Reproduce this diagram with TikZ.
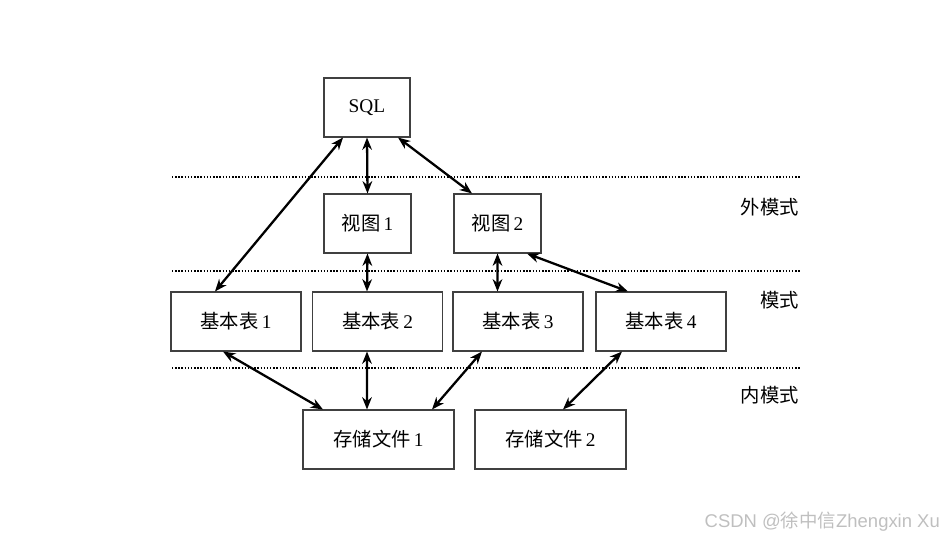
\documentclass[tikz,border=0pt]{standalone}
\usepackage{fontspec}
\setmainfont{Liberation Serif}
\newfontfamily\cjk{Noto Sans CJK SC}
\usetikzlibrary{arrows.meta}

\tikzset{
  box/.style={draw=black!75, line width=0.6pt, minimum height=1.18cm, inner sep=0pt,
    font=\fontsize{11}{12}\selectfont},
  link/.style={{Stealth[length=7pt,width=5.5pt]}-{Stealth[length=7pt,width=5.5pt]}, line width=1.3pt},
  level/.style={densely dotted, line width=0.8pt},
  layer/.style={anchor=east, font=\cjk\fontsize{11}{12}\selectfont},
}

\begin{document}
\begin{tikzpicture}[x=0.2cm, y=-0.2cm]
\useasboundingbox (0,0) rectangle (95.1,53.9);

% dotted separators
\draw[level] (17.2,17.7) -- (80.1,17.7);
\draw[level] (17.2,27.1) -- (80.1,27.1);
\draw[level] (17.2,36.8) -- (80.1,36.8);

% layer names
\node[layer] (ext) at (80.5,20.7) {外模式};
\node[layer] (mid) at (80.5,30.0) {模式};
\node[layer] (inn) at (80.5,39.5) {内模式};

% boxes
\node[box, minimum width=1.72cm] (sql) at (36.7,10.75) {SQL};
\node[box, minimum width=1.74cm] (v1) at (36.75,22.35) {{\cjk 视图}\,1};
\node[box, minimum width=1.74cm] (v2) at (49.75,22.35) {{\cjk 视图}\,2};
\node[box, minimum width=2.6cm] (t1) at (23.6,32.15) {{\cjk 基本表}\,1};
\node[box, minimum width=2.6cm] (t2) at (37.75,32.15) {{\cjk 基本表}\,2};
\node[box, minimum width=2.6cm] (t3) at (51.8,32.15) {{\cjk 基本表}\,3};
\node[box, minimum width=2.6cm] (t4) at (66.1,32.15) {{\cjk 基本表}\,4};
\node[box, minimum width=3.02cm] (f1) at (37.85,43.95) {{\cjk 存储文件}\,1};
\node[box, minimum width=3.02cm] (f2) at (55.05,43.95) {{\cjk 存储文件}\,2};

% arrows
\draw[link] ([xshift=-0.48cm]sql.south) -- ([xshift=-0.42cm]t1.north);
\draw[link] (sql.south) -- (v1.north);
\draw[link] ([xshift=0.62cm]sql.south) -- ([xshift=-0.51cm]v2.north);
\draw[link] (v1.south) -- ([xshift=-0.21cm]t2.north);
\draw[link] (v2.south) -- ([xshift=-0.41cm]t3.north);
\draw[link] ([xshift=0.59cm]v2.south) -- ([xshift=-0.66cm]t4.north);
\draw[link] ([xshift=-0.26cm]t1.south) -- ([xshift=-1.11cm]f1.north);
\draw[link] ([xshift=-0.21cm]t2.south) -- ([xshift=-0.23cm]f1.north);
\draw[link] ([xshift=-0.72cm]t3.south) -- ([xshift=1.07cm]f1.north);
\draw[link] ([xshift=-0.78cm]t4.south) -- ([xshift=0.25cm]f2.north);

% watermark
\node[anchor=east, text=black!25, font=\fontsize{10.5}{12}\selectfont] (mark) at (94.6,52.2) {\fontspec{Liberation Sans}CSDN @{\cjk 徐中信}Zhengxin Xu};
\end{tikzpicture}
\end{document}
